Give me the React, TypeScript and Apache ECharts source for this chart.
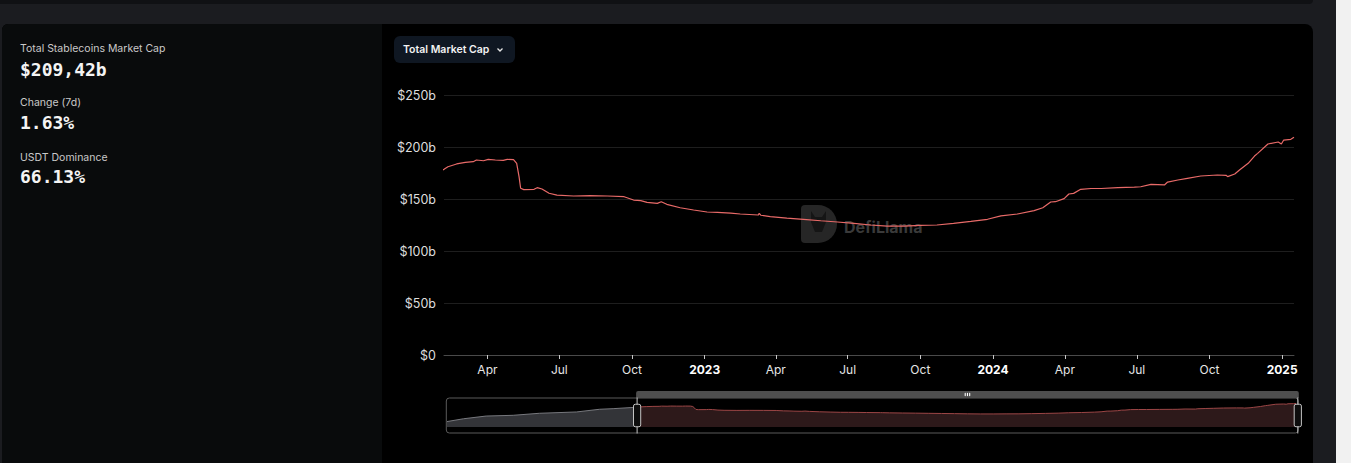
import React, { useEffect, useRef } from "react";
import * as echarts from "echarts";

// ---- data ----
const DATES = [
  "2021-04-02", "2021-04-29", "2021-06-05", "2021-07-19", "2021-08-31", "2021-10-30", "2021-12-07", "2021-12-29",
  "2022-02-05", "2022-02-10", "2022-02-21", "2022-03-04", "2022-03-14", "2022-03-18", "2022-03-27", "2022-04-02",
  "2022-04-11", "2022-04-21", "2022-04-26", "2022-05-04", "2022-05-08", "2022-05-11", "2022-05-13", "2022-05-17",
  "2022-05-30", "2022-06-03", "2022-06-09", "2022-06-18", "2022-06-28", "2022-07-19", "2022-08-09", "2022-08-31",
  "2022-09-21", "2022-10-03", "2022-10-12", "2022-10-20", "2022-11-02", "2022-11-07", "2022-11-14", "2022-12-01",
  "2022-12-18", "2023-01-04", "2023-01-17", "2023-02-03", "2023-02-15", "2023-03-10", "2023-03-11", "2023-03-13",
  "2023-03-25", "2023-04-15", "2023-05-06", "2023-05-28", "2023-06-18", "2023-07-09", "2023-07-30", "2023-08-20",
  "2023-09-10", "2023-10-01", "2023-10-22", "2023-11-12", "2023-12-04", "2023-12-25", "2024-01-11", "2024-02-01",
  "2024-02-22", "2024-03-04", "2024-03-14", "2024-03-20", "2024-03-31", "2024-04-06", "2024-04-12", "2024-04-21",
  "2024-05-04", "2024-05-17", "2024-06-07", "2024-06-28", "2024-07-06", "2024-07-19", "2024-08-05", "2024-08-09",
  "2024-08-22", "2024-09-03", "2024-09-20", "2024-10-11", "2024-10-22", "2024-10-24", "2024-11-02", "2024-11-08",
  "2024-11-19", "2024-11-27", "2024-12-01", "2024-12-14", "2024-12-27", "2024-12-31", "2025-01-03", "2025-01-12",
  "2025-01-16",
];
const MCAP_B = [
  62.2, 85, 107, 113, 129.5, 140, 162, 167,
  178.5, 181, 183.7, 185.3, 185.9, 187.5, 186.8, 188.1,
  187.5, 187.2, 188.1, 187.8, 184.3, 171.5, 160.3, 159,
  159.3, 160.9, 159.6, 155.5, 153.8, 152.9, 153.2, 152.9,
  152.2, 149, 148.4, 146.8, 145.8, 147.4, 144.9, 141.6,
  139.4, 137.5, 137.2, 136.5, 135.6, 134.6, 136.2, 134.4,
  133, 131.7, 130.5, 129.1, 127.9, 126.6, 125, 124,
  124, 124.7, 125, 126.6, 128.5, 130.5, 133.7, 135.6,
  138.8, 141.6, 147.1, 147.4, 150.3, 154.8, 155.4, 159.3,
  160.1, 160.1, 160.9, 161.5, 161.8, 164.1, 163.5, 166.3,
  168.3, 169.9, 172.1, 173.1, 172.8, 171.5, 174, 177.9,
  184.3, 191.3, 193.9, 202.9, 204.8, 202.9, 206.7, 207.4,
  209.4,
];
const WINDOW_START = "2022-02-05";
const WINDOW_END = "2025-01-16";
const X_TICKS = [
  "2022-04-01", "2022-07-01", "2022-10-01", "2023-01-01", "2023-04-01", "2023-07-01",
  "2023-10-01", "2024-01-01", "2024-04-01", "2024-07-01", "2024-10-01", "2025-01-01",
];
const MONTHS = ["Jan", "Feb", "Mar", "Apr", "May", "Jun", "Jul", "Aug", "Sep", "Oct", "Nov", "Dec"];
const Y_MIN = 0;
const Y_MAX = 250;
const Y_STEP = 50;

const STATS = [
  { label: "Total Stablecoins Market Cap", value: "$209,42b" },
  { label: "Change (7d)", value: "1.63%" },
  { label: "USDT Dominance", value: "66.13%" },
];

const toTs = (s: string) => {
  const [y, m, d] = s.split("-").map(Number);
  return new Date(y, m - 1, d).getTime();
};

function Chart() {
  const ref = useRef<HTMLDivElement>(null);
  useEffect(() => {
    if (!ref.current) return;
    const chart = echarts.init(ref.current, undefined, { renderer: "svg" });
    const startTs = toTs(WINDOW_START);
    const endTs = toTs(WINDOW_END);
    const full = DATES.map((d, i) => [toTs(d), MCAP_B[i]]);
    const before = full.filter((p) => p[0] <= startTs);
    const inside = full.filter((p) => p[0] >= startTs);
    const vMin = Math.min(...MCAP_B);
    const vMax = Math.max(...MCAP_B);
    const r = vMax - vMin;
    const tickTs = X_TICKS.map(toTs);
    const fullMin = toTs(DATES[0]);
    const fullMax = toTs(DATES[DATES.length - 1]);

    chart.setOption({
      animation: false,
      backgroundColor: "transparent",
      textStyle: { fontFamily: "Inter, 'Noto Sans', sans-serif" },
      grid: [
        { left: 444, right: 57, top: 95, bottom: 108 },
        { left: 447, right: 55, top: 398, height: 29 },
      ],
      xAxis: [
        {
          type: "value",
          gridIndex: 0,
          min: startTs,
          max: endTs,
          axisLine: { show: true, lineStyle: { color: "#4a4a4a", width: 1 } },
          axisTick: {
            show: true,
            length: 4,
            lineStyle: { color: "#c8c8c8" },
            customValues: tickTs,
          },
          axisLabel: {
            color: "#e6e6e6",
            fontSize: 12,
            margin: 8,
            customValues: tickTs,
            formatter: (v: number) => {
              const d = new Date(v);
              return d.getMonth() === 0 ? "{y|" + d.getFullYear() + "}" : MONTHS[d.getMonth()];
            },
            rich: { y: { fontWeight: "bold", color: "#ffffff", fontSize: 12 } },
          },
          splitLine: { show: false },
        },
        {
          type: "value",
          gridIndex: 1,
          min: fullMin,
          max: fullMax,
          show: false,
        },
        {
          type: "value",
          gridIndex: 1,
          position: "top",
          scale: true,
          min: fullMin,
          max: fullMax,
          show: false,
        },
      ],
      yAxis: [
        {
          type: "value",
          gridIndex: 0,
          min: Y_MIN,
          max: Y_MAX,
          interval: Y_STEP,
          axisLine: { show: false },
          axisTick: { show: false },
          axisLabel: {
            color: "#dedede",
            fontSize: 12.5,
            margin: 8,
            formatter: (v: number) => (v === 0 ? "$0" : "$" + v + "b"),
          },
          splitLine: { lineStyle: { color: "#1e1e1e", width: 1 } },
        },
        {
          type: "value",
          gridIndex: 1,
          min: vMin - 0.3 * r,
          max: vMax + 0.3 * r,
          show: false,
        },
      ],
      dataZoom: [
        {
          type: "slider",
          xAxisIndex: 2,
          filterMode: "none",
          startValue: startTs,
          endValue: endTs,
          left: 443,
          right: 55,
          top: 391,
          height: 36,
          showDataShadow: false,
          showDetail: false,
          backgroundColor: "rgba(0,0,0,0)",
          borderColor: "#5a5a5a",
          borderRadius: 3,
          fillerColor: "rgba(0,0,0,0)",
          handleStyle: { color: "#0d0d0d", borderColor: "#c4c4c4", borderWidth: 1 },
          moveHandleSize: 7,
          moveHandleStyle: { color: "#4e4e4e", opacity: 1 },
          textStyle: { color: "rgba(0,0,0,0)" },
        },
      ],
      graphic: [
        {
          type: "group",
          z: 0,
          children: [
            {
              type: "rect",
              shape: { x: 801, y: 205, width: 36, height: 38, r: [4, 19, 19, 4] },
              style: { fill: "#262626" },
            },
            {
              type: "polygon",
              shape: {
                points: [
                  [811, 211], [815, 217], [822, 217], [826, 211], [826, 222],
                  [822, 232], [815, 232], [811, 222],
                ],
              },
              style: { fill: "#151515" },
            },
            {
              type: "text",
              x: 844,
              y: 227,
              style: {
                text: "DefiLlama",
                fill: "#3a3a3a",
                font: "bold 16px Inter, sans-serif",
                verticalAlign: "middle",
              },
            },
          ],
        },
      ],
      series: [
        {
          type: "line",
          xAxisIndex: 0,
          yAxisIndex: 0,
          data: full,
          showSymbol: false,
          z: 3,
          lineStyle: { color: "#e86a68", width: 1.2 },
        },
        {
          type: "line",
          xAxisIndex: 1,
          yAxisIndex: 1,
          data: before,
          showSymbol: false,
          silent: true,
          lineStyle: { color: "#77787d", width: 1 },
          areaStyle: { color: "#333438", opacity: 1 },
        },
        {
          type: "line",
          xAxisIndex: 1,
          yAxisIndex: 1,
          data: inside,
          showSymbol: false,
          silent: true,
          lineStyle: { color: "#9c4646", width: 1 },
          areaStyle: { color: "#2d191a", opacity: 1 },
        },
        {
          type: "line",
          xAxisIndex: 2,
          yAxisIndex: 1,
          data: full,
          showSymbol: false,
          silent: true,
          lineStyle: { opacity: 0 },
        },
      ],
    });
    return () => chart.dispose();
  }, []);
  return (
    <div
      ref={ref}
      style={{ position: "absolute", left: 0, top: 0, width: 1351, height: 463 }}
    />
  );
}

export default function App() {
  const labelTops = [43, 97, 152];
  const valueTops = [61, 114, 168];
  return (
    <div
      style={{
        position: "absolute",
        left: 0,
        top: 0,
        width: 1351,
        height: 463,
        overflow: "hidden",
        background: "#1b1c20",
        fontFamily: "Inter, 'Noto Sans', sans-serif",
      }}
    >
      <div
        style={{
          position: "absolute",
          left: 0,
          top: 0,
          width: 1313,
          height: 4,
          background: "#101114",
          borderBottomRightRadius: 4,
        }}
      />
      <div style={{ position: "absolute", left: 1336, top: 0, width: 15, height: 463, background: "#f1f1f1" }} />
      <div
        style={{
          position: "absolute",
          left: 2,
          top: 24,
          width: 1311,
          height: 460,
          background: "#000",
          borderTopLeftRadius: 6,
          borderTopRightRadius: 8,
          overflow: "hidden",
        }}
      >
        <div style={{ position: "absolute", left: 0, top: 0, width: 380, height: 460, background: "#090b0c" }} />
      </div>
      {STATS.map((s, i) => (
        <React.Fragment key={s.label}>
          <div
            style={{
              position: "absolute",
              left: 20,
              top: labelTops[i],
              fontSize: 10.5,
              lineHeight: "11px",
              color: "#c9c9c9",
              whiteSpace: "nowrap",
            }}
          >
            {s.label}
          </div>
          <div
            style={{
              position: "absolute",
              left: 20,
              top: valueTops[i],
              fontSize: 18,
              lineHeight: "18px",
              fontWeight: "bold",
              fontFamily: "'DejaVu Sans Mono', 'Liberation Mono', monospace",
              color: "#f4f4f4",
              whiteSpace: "nowrap",
            }}
          >
            {s.value}
          </div>
        </React.Fragment>
      ))}
      <div
        style={{
          position: "absolute",
          left: 394,
          top: 36,
          width: 121,
          height: 27,
          borderRadius: 6,
          background: "#0f1722",
        }}
      >
        <div
          style={{
            position: "absolute",
            left: 9,
            top: 8,
            fontSize: 10.5,
            lineHeight: "11px",
            fontWeight: 600,
            color: "#f2f2f2",
            whiteSpace: "nowrap",
          }}
        >
          Total Market Cap
        </div>
        <svg style={{ position: "absolute", left: 102, top: 11 }} width="8" height="6" viewBox="0 0 8 6">
          <polyline points="1.5,1.5 4,4 6.5,1.5" fill="none" stroke="#e6e6e6" strokeWidth="1.3" />
        </svg>
      </div>
      <Chart />
    </div>
  );
}
